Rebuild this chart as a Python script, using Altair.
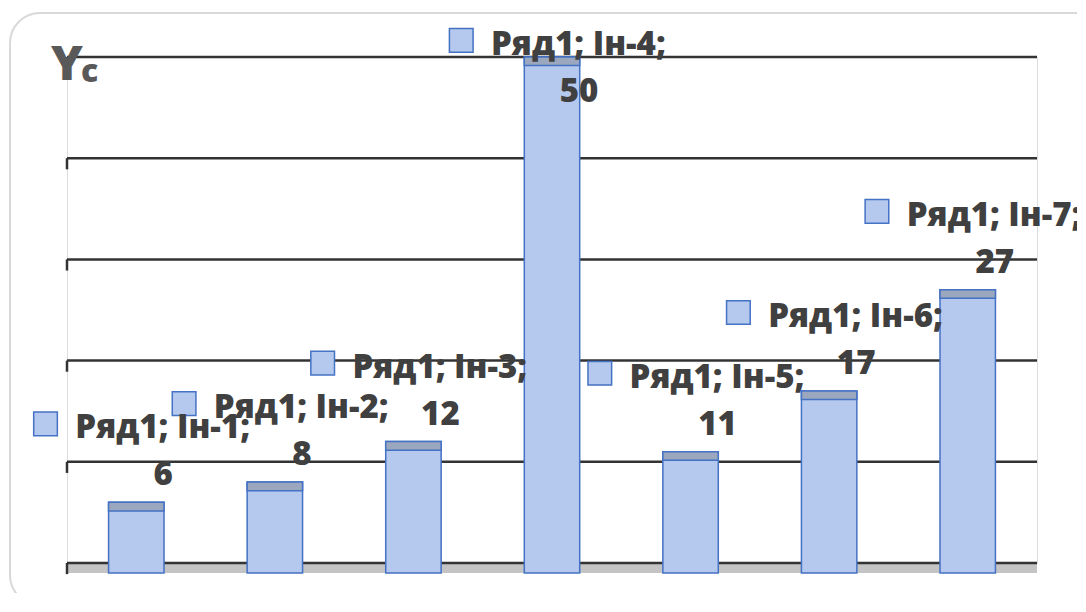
import altair as alt
import pandas as pd

# ---- data ----
categories = ["Ін-1", "Ін-2", "Ін-3", "Ін-4", "Ін-5", "Ін-6", "Ін-7"]
values = [6, 8, 12, 50, 11, 17, 27]
series_name = "Ряд1"
grid_values = [0, 10, 20, 30, 40, 50]

df = pd.DataFrame({"idx": list(range(len(categories))), "cat": categories, "value": values})
df["label"] = [f"{series_name}; {c};" for c in categories]
grid_df = pd.DataFrame({"g": grid_values})
one = pd.DataFrame({"k": [0]})

W, H = 970, 506
FONT = "Open Sans"
TXT = "#404040"
BAR_FILL = "#b5c8ed"
BAR_STROKE = "#4472c4"

xs = alt.Scale(domain=[-0.5, len(categories) - 0.5], nice=False, zero=False)
ys = alt.Scale(domain=[0, 50], nice=False, zero=False)

def X(f):
    return alt.X(f, type="quantitative", scale=xs, axis=None)

def Y(f):
    return alt.Y(f, type="quantitative", scale=ys, axis=None)

# outer rounded frame
frame = alt.Chart(one).mark_rect(
    fillOpacity=0, stroke="#d9d9d9", strokeWidth=2, cornerRadius=30
).encode(x=alt.value(-57), x2=alt.value(1045), y=alt.value(-44), y2=alt.value(548))

# floor
floor = alt.Chart(one).transform_calculate(f0="0", f1="-1").mark_rect(
    color="#c4c4c4"
).encode(x=alt.value(0), x2=alt.value(W), y=Y("f0"), y2=alt.Y2("f1:Q"))

# gridlines
grid = alt.Chart(grid_df).mark_rule(color="#333333", strokeWidth=2.5).encode(
    x=alt.value(0), x2=alt.value(W), y=Y("g")
)
# small 3D wall ticks on the left
wall = alt.Chart(grid_df).transform_calculate(g2="datum.g - 1.1").mark_rule(
    color="#333333", strokeWidth=2.5
).encode(x=alt.value(0), y=Y("g"), y2=alt.Y2("g2:Q"))

base = alt.Chart(df).transform_calculate(
    x0="datum.idx - 0.2", x1="datum.idx + 0.2", b="-1", cap="datum.value - 0.85",
    ly="min(datum.value, 43.9)", sq="datum.idx - 0.655", sy="min(datum.value, 43.9) + 7.75"
)

bars = base.mark_rect(fill=BAR_FILL, stroke=BAR_STROKE, strokeWidth=1.5).encode(
    x=X("x0"), x2=alt.X2("x1:Q"), y=Y("value"), y2=alt.Y2("b:Q")
)
caps = base.mark_rect(fill="#9aa7be", stroke=BAR_STROKE, strokeWidth=1.5).encode(
    x=X("x0"), x2=alt.X2("x1:Q"), y=Y("value"), y2=alt.Y2("cap:Q")
)

lab1 = base.mark_text(
    align="left", baseline="alphabetic", dx=-61, dy=-64,
    font=FONT, fontSize=33, fontWeight=800, color=TXT
).encode(x=X("idx"), y=Y("ly"), text="label:N")

lab2 = base.mark_text(
    align="center", baseline="alphabetic", dx=27, dy=-17,
    font=FONT, fontSize=33, fontWeight=800, color=TXT
).encode(x=X("idx"), y=Y("ly"), text="value:Q")

squares = base.mark_square(
    size=560, filled=True, fill=BAR_FILL, stroke=BAR_STROKE, strokeWidth=1.5, opacity=1
).encode(x=X("sq"), y=Y("sy"))

ytitle = alt.Chart(one).mark_text(
    align="center", baseline="alphabetic", font=FONT, fontSize=48, fontWeight=800, color="#595959"
).encode(x=alt.value(0), y=alt.value(23), text=alt.value("Y"))
ysub = alt.Chart(one).mark_text(
    align="left", baseline="alphabetic", font=FONT, fontSize=32, fontWeight=800, color="#595959"
).encode(x=alt.value(14), y=alt.value(25), text=alt.value("c"))

chart = alt.layer(
    frame, floor, grid, wall, bars, caps, squares, lab1, lab2, ytitle, ysub
).properties(
    width=W, height=H,
    autosize=alt.AutoSizeParams(type="none"),
    padding={"left": 59, "top": 49, "right": 40, "bottom": 30},
).configure_view(stroke=None).configure(background="white")

chart.save("out.html", embed_options={"renderer": "svg", "actions": False})
